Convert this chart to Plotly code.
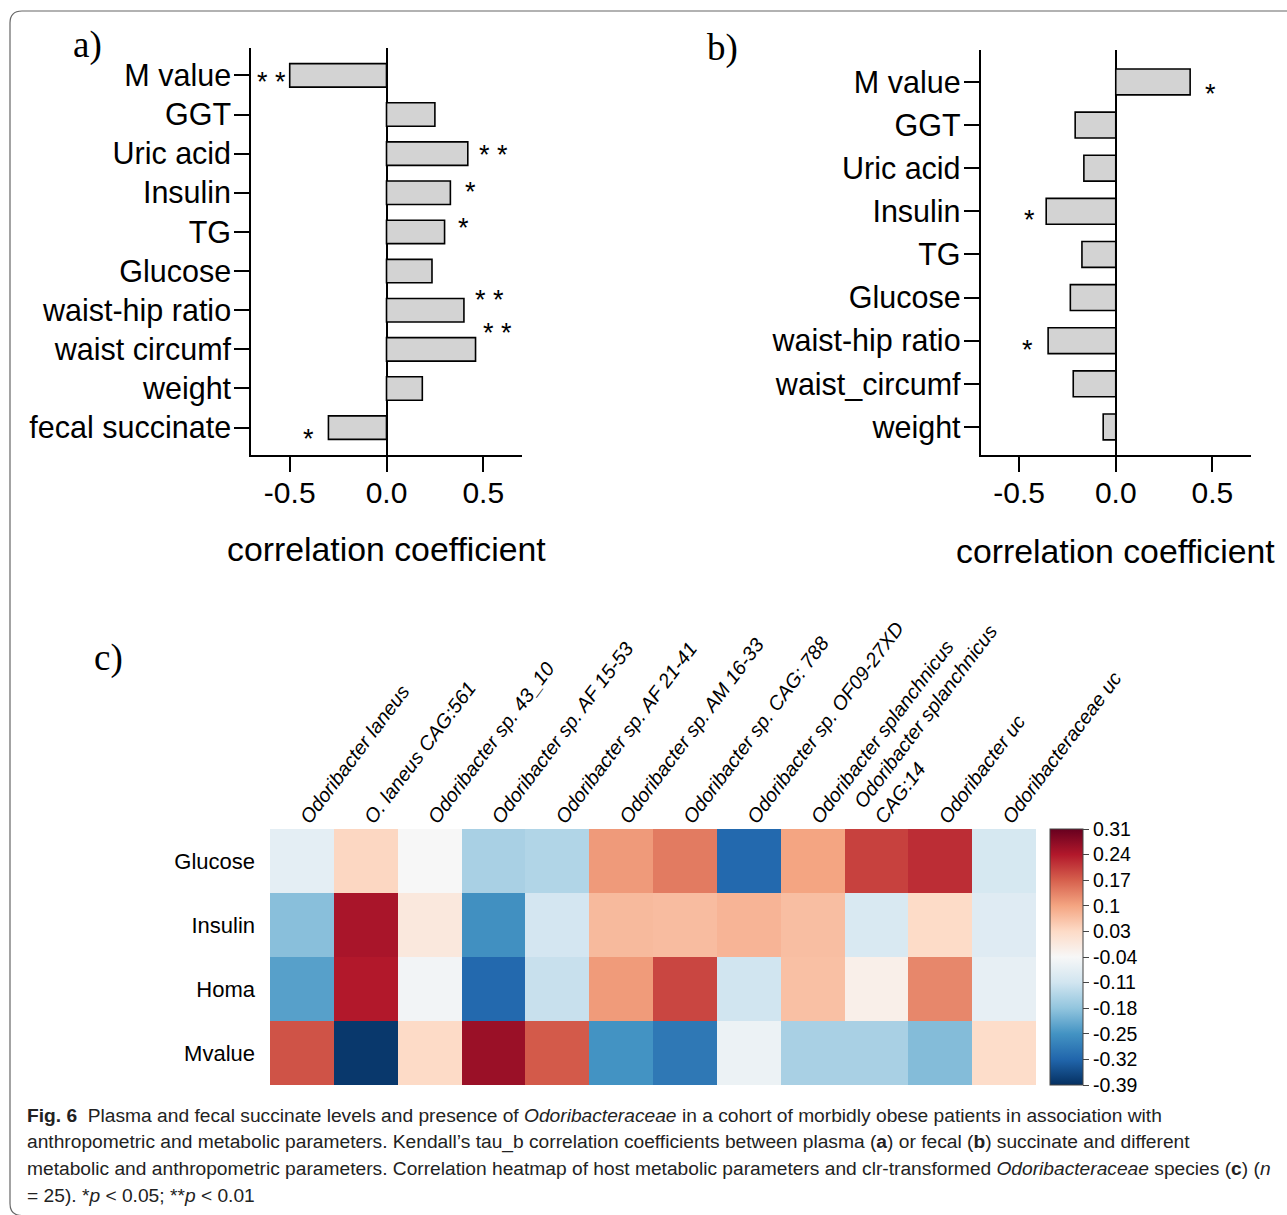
import plotly.graph_objects as go

W, H = 1287, 1215

# ---------------- data ----------------
a_labels = ["M value", "GGT", "Uric acid", "Insulin", "TG", "Glucose",
            "waist-hip ratio", "waist circumf", "weight", "fecal succinate"]
a_values = [-0.50, 0.25, 0.42, 0.33, 0.30, 0.235, 0.40, 0.46, 0.185, -0.30]
a_stars = ["**", "", "**", "*", "*", "", "**", "**", "", "*"]

b_labels = ["M value", "GGT", "Uric acid", "Insulin", "TG", "Glucose",
            "waist-hip ratio", "waist_circumf", "weight"]
b_values = [0.385, -0.21, -0.165, -0.36, -0.175, -0.235, -0.35, -0.22, -0.065]
b_stars = ["*", "", "", "*", "", "", "*", "", ""]

hm_cols = ["Odoribacter laneus", "O. laneus CAG:561", "Odoribacter sp. 43_10",
           "Odoribacter sp. AF 15-53", "Odoribacter sp. AF 21-41",
           "Odoribacter sp. AM 16-33", "Odoribacter sp. CAG: 788",
           "Odoribacter sp. OF09-27XD", "Odoribacter splanchnicus",
           "Odoribacter splanchnicus<br>CAG:14", "Odoribacter uc",
           "Odoribacteraceae uc"]
hm_rows = ["Glucose", "Insulin", "Homa", "Mvalue"]
hm_z = [
    [-0.075, 0.035, -0.04, -0.155, -0.146, 0.111, 0.143, -0.315, 0.10, 0.20, 0.22, -0.10],
    [-0.188, 0.248, -0.002, -0.255, -0.105, 0.073, 0.07, 0.08, 0.068, -0.095, 0.028, -0.085],
    [-0.232, 0.24, -0.05, -0.315, -0.12, 0.11, 0.195, -0.11, 0.065, -0.02, 0.13, -0.07],
    [0.183, -0.38, 0.03, 0.262, 0.176, -0.25, -0.292, -0.06, -0.155, -0.155, -0.192, 0.025],
]
cb_tickvals = [0.31, 0.24, 0.17, 0.10, 0.03, -0.04, -0.11, -0.18, -0.25, -0.32, -0.39]
cb_ticktext = ["0.31", "0.24", "0.17", "0.1", "0.03", "-0.04", "-0.11", "-0.18", "-0.25", "-0.32", "-0.39"]

bar_ticks = [-0.5, 0.0, 0.5]
bar_ticktext = ["-0.5", "0.0", "0.5"]

# ---------------- style ----------------
FONT = "Liberation Sans, Arial, sans-serif"
SERIF = "Liberation Serif, Times New Roman, serif"
rdbu = ['#053061', '#2166ac', '#4393c3', '#92c5de', '#d1e5f0', '#f7f7f7',
        '#fddbc7', '#f4a582', '#d6604d', '#b2182b', '#67001f']
colorscale = [[i / 10, c] for i, c in enumerate(rdbu)]

# star placement tweaks (gap from bar end in data units, vertical pixel shift downward)
a_star_gap = [0.096, 0, 0.134, 0.105, 0.10, 0, 0.134, 0.115, 0, 0.104]
a_star_dy = [1, 0, -5, -7, -10, 0, -16, -22, 0, 5]
b_star_gap = [0.106, 0, 0, 0.088, 0, 0, 0.108, 0, 0]
b_star_dy = [6, 0, 0, 3, 0, 0, 3, 0, 0]


def px(x):
    return x / W


def py(y):
    return 1 - y / H


def star_text(s):
    return " ".join(s)


fig = go.Figure()

fig.add_trace(go.Bar(
    x=a_values, y=a_labels, orientation="h", xaxis="x", yaxis="y",
    marker=dict(color="#d3d3d3", line=dict(color="black", width=1.6)),
    width=0.6, showlegend=False, hoverinfo="x+y"))

fig.add_trace(go.Bar(
    x=b_values, y=b_labels, orientation="h", xaxis="x2", yaxis="y2",
    marker=dict(color="#d3d3d3", line=dict(color="black", width=1.6)),
    width=0.6, showlegend=False, hoverinfo="x+y"))

fig.add_trace(go.Heatmap(
    z=hm_z, x=list(range(len(hm_cols))), y=list(range(len(hm_rows))),
    xaxis="x3", yaxis="y3",
    colorscale=colorscale, zmin=-0.39, zmax=0.31,
    colorbar=dict(
        x=px(1050), xanchor="left", y=py(1085), yanchor="bottom",
        len=256, lenmode="pixels", thickness=33, thicknessmode="pixels",
        outlinewidth=1, outlinecolor="#444", xpad=0, ypad=0,
        tickvals=cb_tickvals, ticktext=cb_ticktext,
        ticks="outside", ticklen=6, tickcolor="#444",
        tickfont=dict(family=FONT, size=19.5, color="black")),
))

bar_x_common = dict(range=[-0.7, 0.7], tickvals=bar_ticks, ticktext=bar_ticktext,
                    ticks="outside", ticklen=15, tickwidth=1.6, tickcolor="black",
                    showline=True, linewidth=1.6, linecolor="black",
                    showgrid=False, zeroline=True, zerolinecolor="black", zerolinewidth=1.6,
                    ticklabelstandoff=-5,
                    tickfont=dict(family=FONT, size=30, color="black"), fixedrange=True)
bar_y_common = dict(type="category", ticks="outside", ticklen=15, tickwidth=1.6,
                    tickcolor="black", showline=True, linewidth=1.6, linecolor="black",
                    showgrid=False, ticklabelstandoff=-3,
                    tickfont=dict(family=FONT, size=30.5, color="black"),
                    fixedrange=True)

fig.update_layout(
    width=W, height=H, autosize=False,
    margin=dict(l=0, r=0, t=0, b=0, autoexpand=False),
    paper_bgcolor="white", plot_bgcolor="white",
    font=dict(family=FONT, color="black"),
    bargap=0.4,
    xaxis=dict(domain=[px(251), px(522)], anchor="y", **bar_x_common),
    yaxis=dict(domain=[py(455), py(48)], anchor="x",
               categoryorder="array", categoryarray=a_labels,
               range=[len(a_labels) - 1 + 0.7, -0.7], **bar_y_common),
    xaxis2=dict(domain=[px(980.5), px(1251)], anchor="y2", **bar_x_common),
    yaxis2=dict(domain=[py(455), py(50)], anchor="x2",
                categoryorder="array", categoryarray=b_labels,
                range=[len(b_labels) - 1 + 0.65, -0.74], **bar_y_common),
    xaxis3=dict(domain=[px(270), px(1036)], anchor="y3", side="top",
                tickvals=list(range(len(hm_cols))), ticktext=hm_cols,
                tickangle=-53, ticks="", showline=False, showgrid=False, zeroline=False,
                range=[-0.5, len(hm_cols) - 0.5], ticklabelstandoff=-5,
                tickfont=dict(family=FONT, size=19.8, color="black", style="italic"),
                fixedrange=True),
    yaxis3=dict(domain=[py(1085), py(829)], anchor="x3",
                tickvals=list(range(len(hm_rows))), ticktext=hm_rows,
                range=[len(hm_rows) - 0.5, -0.5], ticks="", showline=False,
                showgrid=False, zeroline=False, ticklabelstandoff=14,
                tickfont=dict(family=FONT, size=22, color="black"), fixedrange=True),
)

ann = []
# asterisks
for lab, v, s, g, dy in zip(a_labels, a_values, a_stars, a_star_gap, a_star_dy):
    if s:
        sign = 1 if v >= 0 else -1
        ann.append(dict(x=v + sign * g, y=lab, xref="x", yref="y", text=star_text(s),
                        showarrow=False, xanchor="center", yanchor="middle", yshift=-(dy + 6),
                        font=dict(family=FONT, size=27, color="black")))
for lab, v, s, g, dy in zip(b_labels, b_values, b_stars, b_star_gap, b_star_dy):
    if s:
        sign = 1 if v >= 0 else -1
        ann.append(dict(x=v + sign * g, y=lab, xref="x2", yref="y2", text=star_text(s),
                        showarrow=False, xanchor="center", yanchor="middle", yshift=-(dy + 6),
                        font=dict(family=FONT, size=27, color="black")))

# axis titles
ann.append(dict(x=px(387), y=py(549), xref="paper", yref="paper", text="correlation coefficient",
                showarrow=False, xanchor="center", yanchor="middle",
                font=dict(family=FONT, size=33.8, color="black")))
ann.append(dict(x=px(1115), y=py(551), xref="paper", yref="paper", text="correlation coefficient",
                showarrow=False, xanchor="center", yanchor="middle",
                font=dict(family=FONT, size=33.8, color="black")))

# panel letters
for t, xx, yy in [("a)", 87, 45), ("b)", 722, 48), ("c)", 108, 658)]:
    ann.append(dict(x=px(xx), y=py(yy), xref="paper", yref="paper", text=t, showarrow=False,
                    xanchor="center", yanchor="middle",
                    font=dict(family=SERIF, size=37, color="black")))

# caption
CAP = "Liberation Sans, Arial, sans-serif"
cap_lines = [
    "<b>Fig. 6</b>  Plasma and fecal succinate levels and presence of <i>Odoribacteraceae</i> in a cohort of morbidly obese patients in association with",
    "anthropometric and metabolic parameters. Kendall’s tau_b correlation coefficients between plasma (<b>a</b>) or fecal (<b>b</b>) succinate and different",
    "metabolic and anthropometric parameters. Correlation heatmap of host metabolic parameters and clr-transformed <i>Odoribacteraceae</i> species (<b>c</b>) (<i>n</i>",
    "= 25). *<i>p</i> &lt; 0.05; **<i>p</i> &lt; 0.01",
]
for i, line in enumerate(cap_lines):
    ann.append(dict(x=px(25), y=py(1115 + 26.8 * i), xref="paper", yref="paper", text=line,
                    showarrow=False, xanchor="left", yanchor="middle",
                    font=dict(family=CAP, size=19.2, color="#222")))

fig.update_layout(annotations=ann)

# rounded frame
L, T, R, B, r = 10, 11, 1300, 1215.5, 12
path = (f"M {px(R)} {py(T)} L {px(L + r)} {py(T)} Q {px(L)} {py(T)} {px(L)} {py(T + r)} "
        f"L {px(L)} {py(B - r)} Q {px(L)} {py(B)} {px(L + r)} {py(B)} L {px(R)} {py(B)}")
fig.add_shape(type="path", path=path, xref="paper", yref="paper",
              line=dict(color="#666", width=1.2), layer="below")

fig.write_html("out.html", config={"displayModeBar": False},
               post_script="document.body.style.margin='0';document.body.style.padding='0';"
                           "document.body.style.overflow='hidden';"
                           "document.documentElement.style.overflow='hidden';")
